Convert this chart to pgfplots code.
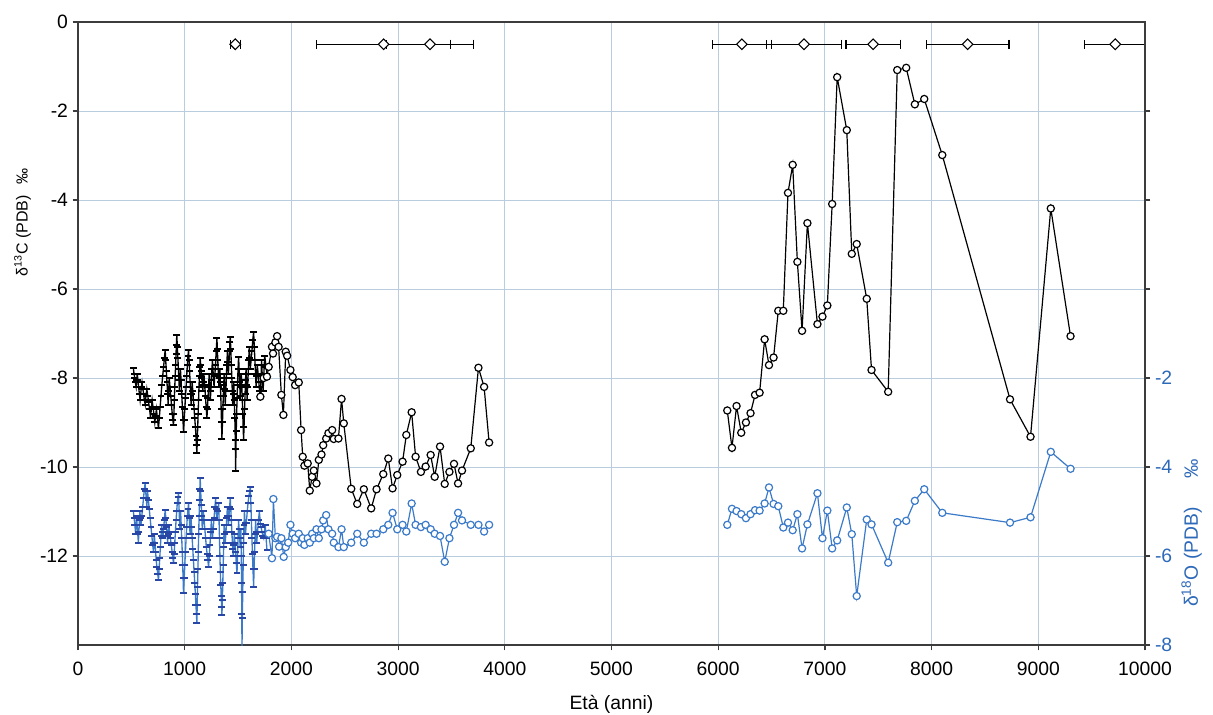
\documentclass[border=0pt]{standalone}
\usepackage{fontspec}
\setmainfont{Liberation Sans}
\usepackage{pgfplots}
\pgfplotsset{compat=1.18}
\definecolor{gridc}{RGB}{185,205,222}
\definecolor{bline}{RGB}{58,122,200}
\definecolor{bmark}{RGB}{40,70,165}
\definecolor{bticks}{RGB}{45,105,185}
\definecolor{axc}{RGB}{60,60,60}

\begin{document}
\begin{tikzpicture}
\path[use as bounding box] (-58.5pt,-51.75pt) rectangle (851.25pt,483.75pt);
\begin{axis}[at={(0,0)}, anchor=south west, scale only axis,
  width=800.25pt, height=467.25pt,
  xmin=0, xmax=10000, ymin=-14, ymax=0,
  xtick={0,1000,...,10000}, ytick={-12,-10,...,0},
  grid=major, major grid style={gridc, line width=0.7pt},
  tick align=outside, tick pos=left, major tick length=4pt,
  axis line style={axc, line width=1.2pt},
  tick style={axc, line width=0.9pt},
  /pgf/number format/assume math mode=true,
  /pgf/number format/1000 sep={},
  scaled x ticks=false,
  ticklabel style={font=\fontsize{14.5}{16}\selectfont},
  xticklabel style={yshift=-5pt},
  xlabel={Età (anni)},
  xlabel style={font=\fontsize{14.5}{16}\selectfont, yshift=-8pt},
  ylabel={δ\textsuperscript{13}C (PDB)\hspace{0.7em}‰},
  ylabel style={font=\fontsize{12}{14}\selectfont, at={(ticklabel cs:0.67)}, xshift=4pt},
]
% top age control points with error bars
\addplot[black, line width=0.8pt, only marks, mark=square*, mark size=2.8pt,
  mark options={fill=white, draw=black, line width=0.8pt, rotate=45},
  error bars/.cd, x dir=both, x explicit, error mark=|,
  error bar style={black, line width=0.8pt},
  error mark options={black, line width=0.9pt, mark size=3.5pt, rotate=0}]
coordinates {
 (1474,-0.5) +- (47,0)
 (2864,-0.5) +- (629,0)
 (3299,-0.5) +- (406,0)
 (6222,-0.5) +- (274,0)
 (6804,-0.5) +- (355,0)
 (7452,-0.5) +- (255,0)
 (8338,-0.5) +- (387,0)
 (9721,-0.5) +- (287,0)
};
% dense d13C record
\addplot[black, line width=1pt, mark=-, mark size=2.6pt, mark options={line width=1.5pt}]
coordinates {
(519,-7.78)(525,-7.9)(532,-8.0)(538,-8.1)(545,-8.2)(550,-8.05)(555,-7.9)
(562,-8.05)(568,-8.2)(575,-8.35)(582,-8.5)(588,-8.35)(594,-8.2)(600,-8.1)
(608,-8.25)(615,-8.35)(622,-8.5)(630,-8.6)(637,-8.4)(645,-8.25)
(654,-8.4)(662,-8.55)(671,-8.7)(680,-8.9)(687,-8.7)(695,-8.5)
(703,-8.65)(711,-8.8)(720,-9.0)(727,-8.85)(735,-8.7)(744,-8.9)(754,-9.13)
(762,-8.9)(770,-8.65)(778,-8.4)(786,-8.15)(794,-7.95)(802,-7.75)(810,-7.55)(817,-7.37)
(822,-7.6)(828,-7.85)(834,-8.1)(840,-8.35)(845,-8.6)(850,-8.3)(855,-8.0)
(862,-8.2)(869,-8.4)(876,-8.6)(883,-8.8)(889,-8.95)(895,-9.06)
(899,-8.8)(903,-8.5)(907,-8.2)(911,-7.95)(915,-7.7)(919,-7.45)(922,-7.25)(926,-7.03)
(931,-7.3)(936,-7.55)(941,-7.8)(946,-8.05)(950,-8.3)(955,-8.05)(960,-7.8)
(966,-8.05)(972,-8.35)(978,-8.65)(984,-8.95)(989,-9.21)
(995,-8.95)(1001,-8.7)(1007,-8.45)(1013,-8.2)(1019,-7.95)(1025,-7.7)(1031,-7.5)(1036,-7.37)
(1041,-7.6)(1046,-7.85)(1051,-8.1)(1056,-8.35)(1060,-8.6)(1065,-8.35)(1070,-8.1)
(1076,-8.3)(1082,-8.5)(1088,-8.7)(1094,-8.9)(1100,-9.1)(1106,-9.3)(1110,-9.5)(1114,-9.69)
(1118,-9.4)(1122,-9.1)(1126,-8.8)(1130,-8.5)(1134,-8.2)(1138,-7.95)(1142,-7.75)(1145,-7.56)
(1150,-7.7)(1155,-7.85)(1160,-8.0)(1165,-8.15)(1170,-8.3)(1175,-8.1)(1180,-7.9)
(1187,-8.15)(1194,-8.4)(1201,-8.65)(1208,-8.91)
(1213,-8.7)(1218,-8.45)(1224,-8.2)(1230,-7.9)(1235,-8.2)(1240,-8.5)
(1245,-8.3)(1250,-8.05)(1255,-7.8)(1260,-7.6)(1267,-7.9)(1275,-8.2)
(1282,-7.95)(1289,-7.7)(1295,-7.4)(1302,-7.11)
(1306,-7.35)(1310,-7.6)(1315,-7.9)(1320,-8.2)(1325,-8.0)(1330,-7.8)
(1334,-8.1)(1338,-8.4)(1342,-8.7)(1345,-9.0)(1349,-9.36)
(1354,-9.0)(1358,-8.7)(1362,-8.4)(1366,-8.15)(1370,-7.9)(1375,-8.25)(1380,-8.6)
(1385,-8.3)(1390,-8.0)(1395,-7.7)(1400,-7.4)(1405,-7.65)(1410,-7.9)
(1415,-7.65)(1420,-7.4)(1424,-7.2)(1427,-7.07)
(1432,-7.35)(1437,-7.7)(1442,-8.0)(1446,-8.3)(1450,-8.6)(1455,-8.35)(1460,-8.1)
(1465,-8.5)(1470,-8.9)(1474,-9.4)(1478,-10.10)
(1480,-9.6)(1483,-9.2)(1487,-8.8)(1491,-8.45)(1495,-8.15)(1500,-7.8)(1505,-7.52)
(1510,-7.8)(1515,-8.1)(1520,-8.4)(1525,-8.15)(1530,-7.9)
(1535,-8.2)(1540,-8.5)(1544,-8.8)(1548,-9.1)(1552,-9.39)
(1556,-9.1)(1561,-8.7)(1566,-8.35)(1570,-8.05)(1575,-7.8)(1580,-8.15)(1585,-8.5)
(1590,-8.2)(1595,-7.9)(1600,-7.6)(1605,-7.3)(1610,-7.55)(1615,-7.8)
(1622,-7.6)(1630,-7.4)(1638,-7.15)(1646,-6.96)
(1652,-7.3)(1658,-7.6)(1664,-7.9)(1670,-8.2)(1675,-7.95)(1680,-7.7)
(1688,-7.9)(1695,-8.1)(1702,-8.3)(1709,-8.46)
(1713,-8.2)(1717,-7.9)(1720,-7.6)(1727,-7.95)(1735,-8.3)
(1740,-8.0)(1745,-7.75)(1750,-7.5)(1760,-7.7)(1771,-7.9)
};
% d13C circles, older part
\addplot[black, line width=0.9pt, mark=*, mark size=2.7pt, mark options={fill=white, draw=black, line width=0.9pt}]
coordinates {
(1709,-8.42)(1740,-8.0)(1771,-7.97)(1787,-7.75)(1818,-7.30)(1828,-7.45)(1850,-7.2)(1866,-7.06)
(1880,-7.3)(1906,-8.38)(1925,-8.83)(1947,-7.41)(1960,-7.5)(1991,-7.82)(2012,-7.98)(2035,-8.16)
(2069,-8.10)(2091,-9.17)(2106,-9.77)(2122,-9.97)(2153,-9.92)(2172,-10.53)(2194,-10.22)(2210,-10.08)
(2235,-10.37)(2257,-9.84)(2282,-9.72)(2298,-9.51)(2326,-9.36)(2347,-9.24)(2382,-9.17)(2397,-9.37)
(2441,-9.36)(2470,-8.47)(2491,-9.02)(2561,-10.49)(2617,-10.83)(2679,-10.50)(2748,-10.93)(2798,-10.50)
(2861,-10.16)(2908,-9.81)(2948,-10.48)(2992,-10.18)(3042,-9.88)(3077,-9.28)(3127,-8.77)(3164,-9.77)
(3214,-10.11)(3258,-9.99)(3305,-9.73)(3343,-10.22)(3393,-9.54)(3437,-10.38)(3481,-10.11)(3524,-9.93)
(3562,-10.37)(3599,-10.08)(3681,-9.58)(3753,-7.77)(3806,-8.20)(3853,-9.45)
};
% d13C circles, early Holocene part
\addplot[black, line width=0.9pt, mark=*, mark size=2.7pt, mark options={fill=white, draw=black, line width=0.9pt}]
coordinates {
(6085,-8.73)(6129,-9.57)(6172,-8.63)(6216,-9.23)(6260,-9.0)(6303,-8.79)(6345,-8.38)(6388,-8.33)
(6435,-7.13)(6476,-7.71)(6519,-7.54)(6563,-6.49)(6610,-6.49)(6654,-3.84)(6698,-3.21)(6742,-5.39)
(6786,-6.94)(6836,-4.52)(6930,-6.79)(6977,-6.62)(7023,-6.37)(7068,-4.09)(7115,-1.24)(7205,-2.43)
(7252,-5.21)(7298,-4.99)(7392,-6.22)(7437,-7.82)(7593,-8.31)(7678,-1.08)(7762,-1.03)(7843,-1.85)
(7931,-1.73)(8100,-2.99)(8735,-8.48)(8927,-9.32)(9117,-4.19)(9302,-7.06)
};
\end{axis}

\begin{axis}[at={(0,0)}, anchor=south west, scale only axis,
  width=800.25pt, height=467.25pt,
  xmin=0, xmax=10000, ymin=-8, ymax=6,
  axis x line=none, axis y line*=right,
  ytick={-8,-6,...,4}, yticklabels={-8,-6,-4,-2,{},{},{}},
  tick align=outside, major tick length=4pt,
  axis line style={axc, line width=1.2pt},
  tick style={axc, line width=0.9pt},
  yticklabel style={font=\fontsize{14.5}{16}\selectfont, text=bticks},
  ylabel={δ\textsuperscript{18}O (PDB)\hspace{1.5em}‰},
  ylabel style={font=\fontsize{14.5}{16}\selectfont, text=bticks, at={(ticklabel cs:0.18)}},
]
% dense d18O record
\addplot[bline, line width=1pt, mark=-, mark size=2.6pt, mark options={bmark, line width=1.5pt}]
coordinates {
(519,-5.00)(526,-5.15)(533,-5.3)(540,-5.5)(544,-5.3)(548,-5.1)
(554,-5.3)(560,-5.5)(566,-5.7)(571,-5.45)(576,-5.2)(580,-5.0)(585,-5.15)(590,-5.3)
(598,-5.1)(606,-4.9)(614,-4.7)(622,-4.5)(629,-4.37)(634,-4.55)(640,-4.7)(645,-4.9)(652,-4.55)
(660,-4.75)(668,-4.95)(676,-5.15)(684,-5.35)(692,-5.55)(700,-5.75)(707,-5.9)(711,-5.7)(715,-5.5)
(721,-5.7)(727,-5.9)(733,-6.1)(740,-6.25)(747,-6.4)(754,-6.54)
(760,-6.3)(766,-6.05)(772,-5.8)(778,-5.55)(785,-5.3)(790,-5.45)(795,-5.6)
(802,-5.4)(809,-5.2)(817,-4.97)(823,-5.15)(829,-5.35)(835,-5.55)(840,-5.7)(845,-5.5)(850,-5.3)
(858,-5.45)(866,-5.6)(874,-5.75)(882,-5.9)(889,-6.05)(895,-6.16)
(901,-5.95)(907,-5.7)(913,-5.45)(919,-5.2)(925,-5.0)(931,-4.8)(937,-4.68)(942,-4.59)
(948,-5.0)(955,-5.4)(962,-5.0)
(967,-5.3)(972,-5.6)(977,-5.9)(981,-6.2)(985,-6.5)(989,-6.84)
(995,-6.5)(1001,-6.2)(1007,-5.9)(1013,-5.6)(1019,-5.35)(1025,-5.1)(1031,-4.95)(1036,-4.82)
(1043,-5.15)(1050,-5.5)(1058,-5.1)
(1064,-5.35)(1070,-5.6)(1076,-5.85)(1082,-6.1)(1088,-6.35)(1094,-6.6)(1100,-6.85)(1105,-7.1)(1110,-7.3)(1114,-7.51)
(1117,-7.1)(1120,-6.7)(1124,-6.3)(1127,-5.9)(1131,-5.5)(1135,-5.1)(1139,-4.75)(1142,-4.5)(1145,-4.25)
(1150,-4.55)(1155,-4.85)(1160,-5.1)(1165,-5.4)(1170,-5.2)(1175,-5.0)
(1182,-5.2)(1189,-5.4)(1196,-5.6)(1203,-5.8)(1210,-5.95)(1217,-6.1)(1224,-6.24)
(1230,-6.0)(1237,-5.75)(1244,-5.45)(1250,-5.2)(1255,-5.4)(1260,-5.6)
(1267,-5.4)(1275,-5.15)(1283,-4.9)(1290,-4.7)(1295,-4.95)(1300,-5.2)(1309,-5.0)(1318,-4.82)
(1322,-5.2)(1326,-5.6)(1330,-6.0)(1334,-6.35)(1338,-6.65)(1342,-6.9)(1346,-7.15)(1349,-7.33)
(1353,-7.0)(1357,-6.6)(1361,-6.2)(1365,-5.8)(1370,-5.3)(1375,-5.5)(1380,-5.7)
(1387,-5.45)(1394,-5.15)(1400,-4.9)(1405,-5.1)(1410,-5.3)(1415,-5.1)(1421,-4.9)(1427,-4.70)
(1432,-4.95)(1437,-5.2)(1442,-5.45)(1447,-5.7)(1451,-5.85)(1455,-6.0)(1460,-5.75)(1465,-5.5)
(1471,-5.7)(1477,-5.9)(1483,-6.15)(1490,-6.39)(1495,-6.0)(1500,-5.6)(1505,-5.2)
(1510,-5.4)(1515,-5.6)(1520,-5.8)(1524,-5.6)(1527,-5.4)
(1530,-6.0)(1533,-6.6)(1535,-7.3)(1537,-8.04)
(1540,-7.4)(1544,-6.8)(1548,-6.2)(1552,-5.7)(1556,-5.3)(1560,-5.0)(1565,-5.25)(1570,-5.5)
(1578,-5.25)(1586,-5.0)(1594,-4.8)(1602,-4.65)(1609,-4.55)(1615,-4.44)
(1620,-4.8)(1625,-5.2)(1630,-5.6)(1635,-5.95)(1640,-6.3)(1646,-6.69)
(1650,-6.3)(1655,-5.9)(1660,-5.5)(1665,-5.2)(1670,-5.45)(1675,-5.7)
(1683,-5.45)(1691,-5.2)(1700,-5.0)(1709,-5.27)
(1716,-5.35)(1724,-5.45)(1732,-5.55)(1740,-5.6)(1748,-5.45)(1755,-5.3)(1763,-5.6)(1771,-5.87)
};
% d18O circles, older part
\addplot[bline, line width=0.9pt, mark=*, mark size=2.7pt, mark options={fill=white, draw=bline, line width=0.9pt}]
coordinates {
(1787,-5.5)(1818,-6.05)(1831,-4.72)(1850,-5.6)(1866,-5.57)(1885,-5.79)(1906,-5.6)(1928,-6.02)
(1947,-5.8)(1970,-5.7)(1991,-5.3)(2012,-5.5)(2035,-5.6)(2069,-5.5)(2091,-5.7)(2106,-5.6)
(2122,-5.75)(2153,-5.6)(2172,-5.7)(2194,-5.5)(2210,-5.6)(2235,-5.4)(2257,-5.6)(2282,-5.4)
(2298,-5.2)(2326,-5.08)(2347,-5.4)(2382,-5.5)(2397,-5.7)(2441,-5.8)(2470,-5.4)(2491,-5.8)
(2561,-5.7)(2617,-5.5)(2679,-5.7)(2748,-5.5)(2798,-5.5)(2861,-5.4)(2908,-5.3)(2948,-5.03)
(2992,-5.4)(3042,-5.3)(3077,-5.45)(3127,-4.82)(3164,-5.3)(3214,-5.35)(3258,-5.3)(3305,-5.4)
(3343,-5.5)(3393,-5.55)(3437,-6.13)(3481,-5.6)(3524,-5.3)(3562,-5.03)(3599,-5.2)(3681,-5.3)
(3753,-5.3)(3806,-5.45)(3853,-5.3)
};
% d18O circles, early Holocene part
\addplot[bline, line width=0.9pt, mark=*, mark size=2.7pt, mark options={fill=white, draw=bline, line width=0.9pt}]
coordinates {
(6085,-5.30)(6129,-4.94)(6172,-4.99)(6216,-5.06)(6260,-5.15)(6303,-5.06)(6345,-4.97)(6388,-4.98)
(6435,-4.82)(6476,-4.46)(6519,-4.83)(6563,-4.88)(6610,-5.36)(6654,-5.25)(6698,-5.42)(6742,-5.06)
(6786,-5.83)(6836,-5.29)(6930,-4.59)(6977,-5.60)(7023,-4.98)(7068,-5.83)(7115,-5.65)(7205,-4.91)
(7252,-5.51)(7298,-6.90)(7392,-5.18)(7437,-5.29)(7593,-6.15)(7678,-5.24)(7762,-5.21)(7843,-4.76)
(7931,-4.50)(8100,-5.03)(8735,-5.25)(8927,-5.13)(9117,-3.66)(9302,-4.04)
};
\end{axis}
\end{tikzpicture}
\end{document}
